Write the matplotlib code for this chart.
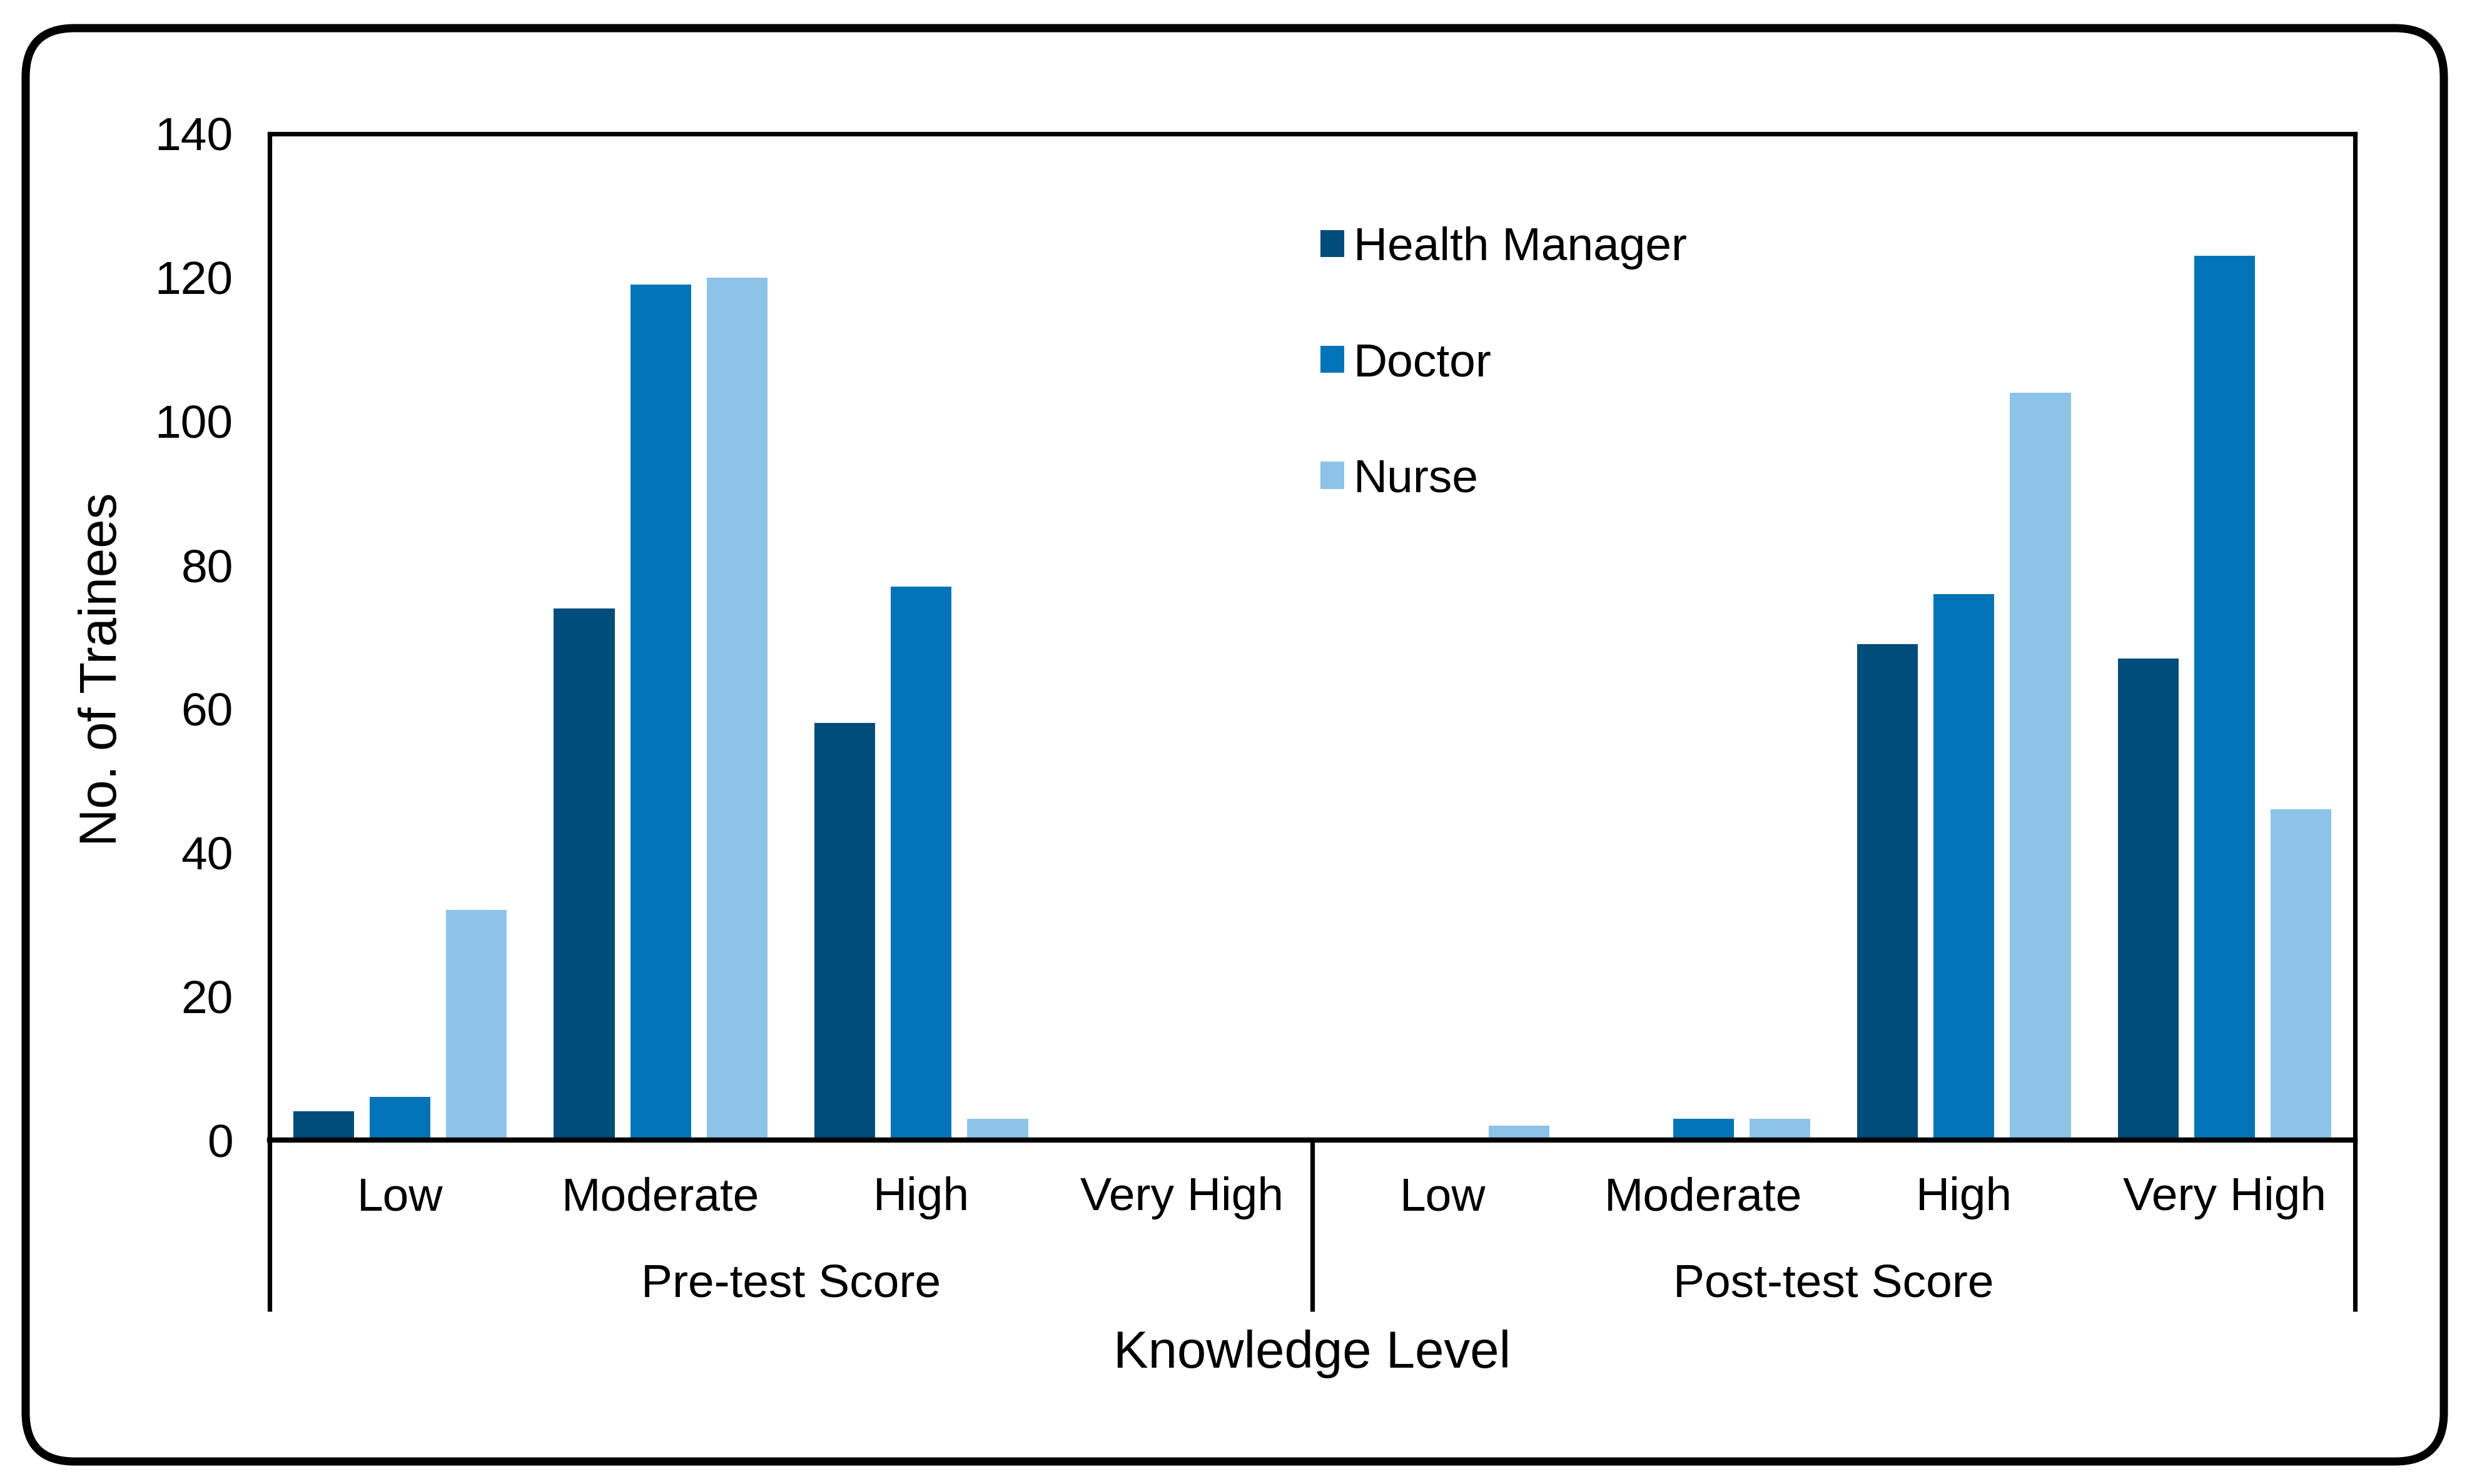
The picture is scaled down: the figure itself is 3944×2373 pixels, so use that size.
import matplotlib.pyplot as plt
import matplotlib.transforms as mtransforms
from matplotlib.patches import FancyBboxPatch
import numpy as np

plt.rcParams['font.family'] = ['Liberation Sans', 'DejaVu Sans']

levels = ["Low", "Moderate", "High", "Very High"]
groups = ["Pre-test Score", "Post-test Score"]
series = ["Health Manager", "Doctor", "Nurse"]
colors = ["#004C7B", "#0074B7", "#8DC3E6"]

# values per level: Pre-test (Low..Very High), then Post-test (Low..Very High)
health_manager = [4, 74, 58, 0, 0, 0, 69, 67]
doctor = [6, 119, 77, 0, 0, 3, 76, 123]
nurse = [32, 120, 3, 0, 2, 3, 104, 46]

fig = plt.figure(figsize=(19.72, 11.865), dpi=200)
ax = fig.add_axes([0.10928, 0.23177, 0.84533, 0.67805])

x = np.arange(len(levels) * len(groups))
width = 0.233
offset = 0.293
for k, (vals, name, c) in enumerate(zip([health_manager, doctor, nurse], series, colors)):
    ax.bar(x + (k - 1) * offset, vals, width, color=c, label=name, zorder=2)

ax.set_xlim(-0.5, len(x) - 0.5)
ax.set_ylim(0, 140)
ax.set_yticks(range(0, 141, 20))
ax.tick_params(axis='y', length=0, pad=21, labelsize=27)
ax.set_xticks(x)
ax.set_xticklabels(levels * len(groups))
ax.tick_params(axis='x', length=0, pad=21, labelsize=27)

for s in ax.spines.values():
    s.set_linewidth(2.6)
    s.set_color("black")
ax.spines['bottom'].set_linewidth(3.0)

trans = mtransforms.blended_transform_factory(ax.transData, ax.transAxes)
for xs in [-0.5, 3.5, 7.5]:
    ax.plot([xs, xs], [0, -0.170], transform=trans, color="black",
            lw=2.6, clip_on=False, solid_capstyle='butt')
for i, g in enumerate(groups):
    ax.text(1.5 + 4 * i, -0.1554, g, transform=trans, ha='center',
            va='baseline', fontsize=27)
ax.text(3.5, -0.2262, "Knowledge Level", transform=trans, ha='center',
        va='baseline', fontsize=30)

ax.text(-0.0801, 0.468, "No. of Trainees", transform=ax.transAxes,
        rotation=90, ha='center', va='center', fontsize=30)

ax.legend(loc='upper left', bbox_to_anchor=(0.5039, 0.908), frameon=False,
          fontsize=27, handlelength=0.51, handleheight=0.51,
          handletextpad=0.2, labelspacing=1.55, borderpad=0, borderaxespad=0)

border = FancyBboxPatch((41 / 3944, 1 - 2337 / 2373),
                        (3907 - 41) / 3944, (2337 - 45) / 2373,
                        boxstyle="round,pad=0,rounding_size=0.0198",
                        transform=fig.transFigure, fill=False,
                        edgecolor="black", linewidth=4.7, mutation_aspect=3944 / 2373)
fig.patches.append(border)

fig.savefig("out.png", dpi=200)
